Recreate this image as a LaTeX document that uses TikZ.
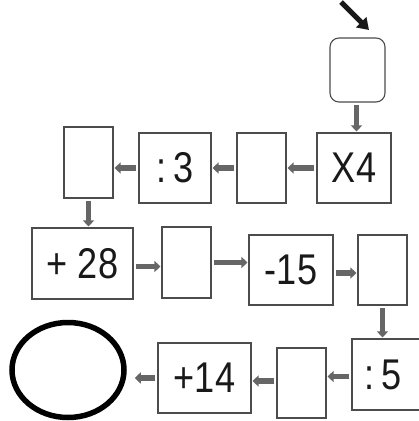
\documentclass[tikz,border=0pt]{standalone}
\usepackage{fontspec}
\setmainfont[FakeStretch=0.84]{Liberation Sans}
\usetikzlibrary{arrows.meta,shapes.geometric}
\begin{document}
\begin{tikzpicture}[x=1pt,y=-1pt,
  box/.style={draw=black!70,line width=1.1pt,rectangle,inner sep=0pt,font=\fontsize{43}{43}\selectfont,text=black!90},
  flow/.style={draw=black!60,line width=5.5pt,-{Triangle[length=6pt,width=11pt]},shorten <=2pt,shorten >=1pt}]
\useasboundingbox (0,0) rectangle (419,421);
\node[box,rounded corners=9pt,minimum width=55pt,minimum height=64pt] (start) at (357.5,70) {};
\coordinate (tail) at (341,2);
\coordinate (tip) at (369,30);
\node[box,minimum width=74pt,minimum height=70pt] (x4) at (354,168) {X4};
\node[box,minimum width=49pt,minimum height=70pt] (e1) at (261.5,168) {};
\node[box,minimum width=72pt,minimum height=70pt] (c3) at (175,168) {:\,3};
\node[box,minimum width=49pt,minimum height=71pt] (t1) at (88.5,162.5) {};
\node[box,minimum width=101pt,minimum height=71pt] (p28) at (82.5,263.5) {+ 28};
\node[box,minimum width=49pt,minimum height=71pt] (e2) at (186.5,262.5) {};
\node[box,minimum width=84pt,minimum height=70pt] (m15) at (291,270) {-15};
\node[box,minimum width=49pt,minimum height=70pt] (e3) at (382.5,270) {};
\node[box,minimum width=68pt,minimum height=71pt] (d5) at (386,374.5) {\hspace*{-6pt}:\,5};
\node[box,minimum width=49pt,minimum height=70pt] (e4) at (301.5,383) {};
\node[box,minimum width=93pt,minimum height=70pt] (p14) at (204.5,378) {+14};
\node[draw=black,line width=5.5pt,ellipse,minimum width=112pt,minimum height=95pt] (res) at (68,370) {};
\draw[line width=5pt,-{Triangle[length=11pt,width=14pt]},black!90] (tail) -- (tip);
\draw[flow] ([xshift=-1pt]start.south) -- ([xshift=-1pt]start.south |- x4.north);
\draw[flow] (x4.west) -- (e1.east);
\draw[flow] (e1.west) -- (e1.west -| c3.east);
\draw[flow] (c3.west) -- (c3.west -| t1.east);
\draw[flow] (t1.south) -- (t1.south |- p28.north);
\draw[flow] ([yshift=-3pt]p28.east) -- ([yshift=-3pt]p28.east -| e2.west);
\draw[flow] (e2.east) -- (e2.east -| m15.west);
\draw[flow] ([yshift=-3pt]m15.east) -- ([yshift=-3pt]m15.east -| e3.west);
\draw[flow] (e3.south) -- (e3.south |- d5.north);
\draw[flow] ([yshift=-2pt]d5.west) -- ([yshift=-2pt]d5.west -| e4.east);
\draw[flow] ([yshift=2pt]e4.west) -- ([yshift=2pt]e4.west -| p14.east);
\draw[flow,shorten >=8pt] (p14.west) -- (p14.west -| res.east);
\end{tikzpicture}
\end{document}
